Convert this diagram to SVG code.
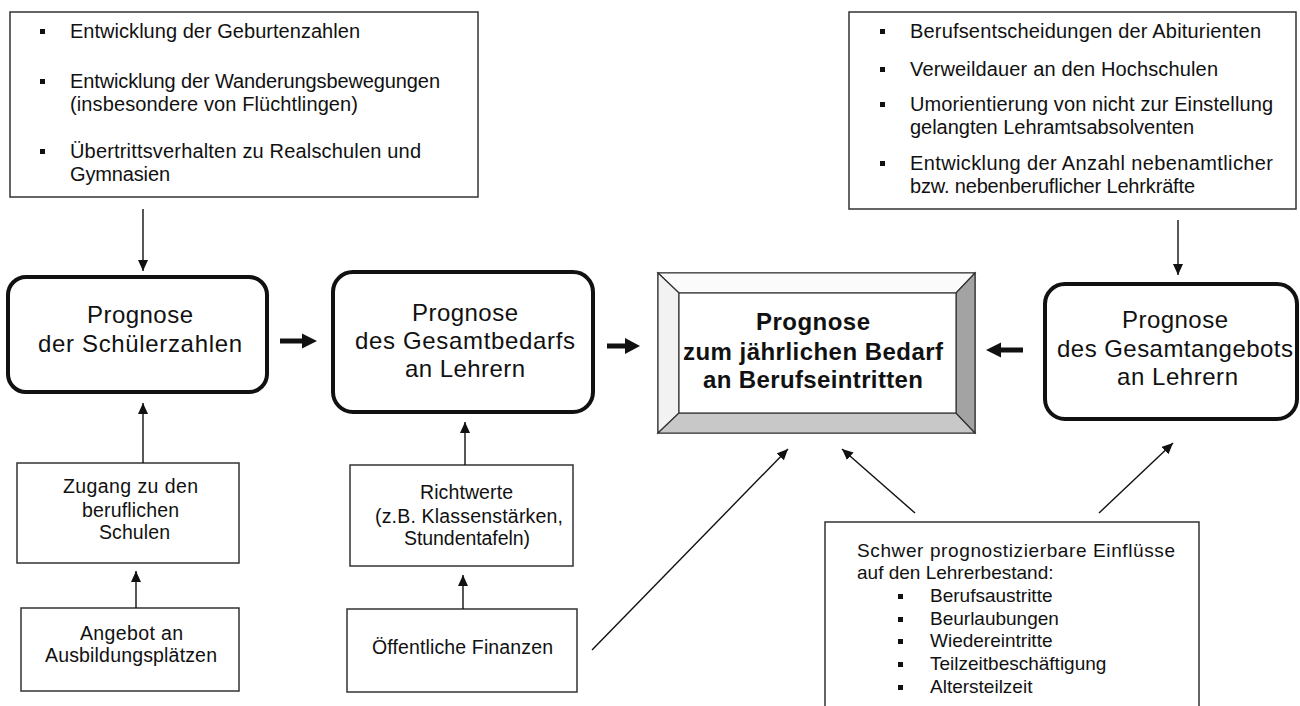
<svg xmlns="http://www.w3.org/2000/svg" width="1300" height="706" viewBox="0 0 1300 706">
<defs>
<style>
.t{font-family:"Liberation Sans",Arial,sans-serif;fill:#111}
.s20{font-size:20px}
.s24{font-size:24px}
.s18{font-size:19.5px}
.s19{font-size:19px}
.b{font-weight:bold}
.box{fill:#fff;stroke:#333;stroke-width:1.5}
.rbox{fill:#fff;stroke:#111;stroke-width:4}
.ln{stroke:#111;stroke-width:1.4;fill:none}
.bul{fill:#111}
.bev{stroke:#333;stroke-width:1.2}
</style>
<marker id="ah" markerUnits="userSpaceOnUse" markerWidth="12" markerHeight="11" refX="11" refY="5" orient="auto">
<path d="M0,0 L11,5 L0,10 z" fill="#111"/>
</marker>
</defs>
<rect width="1300" height="706" fill="#fff"/>

<g id="factors-schueler">
<rect class="box" x="10" y="12" width="468" height="185"/>
<rect class="bul" x="40" y="29" width="5" height="5"/>
<rect class="bul" x="40" y="79" width="5" height="5"/>
<rect class="bul" x="40" y="149" width="5" height="5"/>
<text class="t s20" x="70" y="38" textLength="290">Entwicklung der Geburtenzahlen</text>
<text class="t s20" x="70" y="88" textLength="370">Entwicklung der Wanderungsbewegungen</text>
<text class="t s20" x="70" y="111" textLength="288">(insbesondere von Flüchtlingen)</text>
<text class="t s20" x="70" y="158" textLength="351">Übertrittsverhalten zu Realschulen und</text>
<text class="t s20" x="70" y="181" textLength="100">Gymnasien</text>
</g>

<g id="factors-angebot">
<rect class="box" x="849" y="12" width="447" height="197"/>
<rect class="bul" x="880" y="29" width="5" height="5"/>
<rect class="bul" x="880" y="67" width="5" height="5"/>
<rect class="bul" x="880" y="102" width="5" height="5"/>
<rect class="bul" x="880" y="161" width="5" height="5"/>
<text class="t s20" x="910" y="38" textLength="351">Berufsentscheidungen der Abiturienten</text>
<text class="t s20" x="910" y="76" textLength="308">Verweildauer an den Hochschulen</text>
<text class="t s20" x="910" y="111" textLength="363">Umorientierung von nicht zur Einstellung</text>
<text class="t s20" x="910" y="134" textLength="284">gelangten Lehramtsabsolventen</text>
<text class="t s20" x="910" y="170" textLength="363">Entwicklung der Anzahl nebenamtlicher</text>
<text class="t s20" x="910" y="193" textLength="285">bzw. nebenberuflicher Lehrkräfte</text>
</g>

<g id="prognose-schueler">
<rect class="rbox" x="8" y="277" width="259" height="115" rx="18"/>
<text class="t s24" x="87" y="323" textLength="106">Prognose</text>
<text class="t s24" x="38" y="352" textLength="204">der Schülerzahlen</text>
</g>

<g id="prognose-bedarf">
<rect class="rbox" x="333" y="272" width="260" height="140" rx="20"/>
<text class="t s24" x="412" y="321" textLength="106">Prognose</text>
<text class="t s24" x="355" y="349" textLength="220">des Gesamtbedarfs</text>
<text class="t s24" x="405" y="377" textLength="120">an Lehrern</text>
</g>

<g id="prognose-eintritte">
<rect x="658" y="273" width="317" height="160" fill="#fff" class="bev"/>
<polygon class="bev" points="658,273 975,273 956,293 679,293" fill="#fbfbfb"/>
<polygon class="bev" points="658,273 679,293 679,413 658,433" fill="#f2f2f2"/>
<polygon class="bev" points="658,433 679,413 956,413 975,433" fill="#c8c8c8"/>
<polygon class="bev" points="975,273 975,433 956,413 956,293" fill="#a3a3a3"/>
<rect x="679" y="293" width="277" height="120" fill="#fff" class="bev"/>
<text class="t s24 b" x="756" y="330" textLength="114">Prognose</text>
<text class="t s24 b" x="683" y="360" textLength="260">zum jährlichen Bedarf</text>
<text class="t s24 b" x="703" y="388" textLength="220">an Berufseintritten</text>
</g>

<g id="prognose-angebot">
<rect class="rbox" x="1045" y="284" width="252" height="135" rx="20"/>
<text class="t s24" x="1122" y="328" textLength="106">Prognose</text>
<text class="t s24" x="1057" y="357" textLength="236">des Gesamtangebots</text>
<text class="t s24" x="1117" y="385" textLength="121">an Lehrern</text>
</g>

<g id="zugang">
<rect class="box" x="17" y="463" width="222" height="100"/>
<text class="t s18" x="63" y="493" textLength="135">Zugang zu den</text>
<text class="t s18" x="82" y="517" textLength="97">beruflichen</text>
<text class="t s18" x="99" y="539" textLength="71">Schulen</text>
</g>

<g id="ausbildung">
<rect class="box" x="21" y="608" width="218" height="83"/>
<text class="t s18" x="80" y="640" textLength="103">Angebot an</text>
<text class="t s18" x="45" y="662" textLength="172">Ausbildungsplätzen</text>
</g>

<g id="richtwerte">
<rect class="box" x="350" y="465" width="223" height="101"/>
<text class="t s18" x="420" y="499" textLength="93">Richtwerte</text>
<text class="t s18" x="375" y="523" textLength="188">(z.B. Klassenstärken,</text>
<text class="t s18" x="404" y="545" textLength="126">Stundentafeln)</text>
</g>

<g id="finanzen">
<rect class="box" x="347" y="609" width="230" height="83"/>
<text class="t s18" x="372" y="654" textLength="181">Öffentliche Finanzen</text>
</g>

<g id="einfluesse">
<rect class="box" x="825" y="522" width="374" height="200"/>
<text class="t s19" x="857" y="557" textLength="318">Schwer prognostizierbare Einflüsse</text>
<text class="t s19" x="857" y="579">auf den Lehrerbestand:</text>
<rect class="bul" x="898" y="594" width="5" height="5"/>
<rect class="bul" x="898" y="617" width="5" height="5"/>
<rect class="bul" x="898" y="639" width="5" height="5"/>
<rect class="bul" x="898" y="662" width="5" height="5"/>
<rect class="bul" x="898" y="685" width="5" height="5"/>
<text class="t s19" x="930" y="602">Berufsaustritte</text>
<text class="t s19" x="930" y="625">Beurlaubungen</text>
<text class="t s19" x="930" y="647">Wiedereintritte</text>
<text class="t s19" x="930" y="670">Teilzeitbeschäftigung</text>
<text class="t s19" x="930" y="693">Altersteilzeit</text>
</g>

<g id="connectors">
<line class="ln" x1="143" y1="209" x2="143" y2="271" marker-end="url(#ah)"/>
<line class="ln" x1="1178" y1="220" x2="1178" y2="275" marker-end="url(#ah)"/>
<line class="ln" x1="143" y1="463" x2="143" y2="403" marker-end="url(#ah)"/>
<line class="ln" x1="136" y1="608" x2="136" y2="571" marker-end="url(#ah)"/>
<line class="ln" x1="465" y1="465" x2="465" y2="422" marker-end="url(#ah)"/>
<line class="ln" x1="463" y1="609" x2="463" y2="575" marker-end="url(#ah)"/>
<line class="ln" x1="592" y1="650" x2="788" y2="449" marker-end="url(#ah)"/>
<line class="ln" x1="915" y1="513" x2="842" y2="449" marker-end="url(#ah)"/>
<line class="ln" x1="1099" y1="513" x2="1173" y2="443" marker-end="url(#ah)"/>
<polygon fill="#111" points="280,338.5 302,338.5 302,333.5 317,341 302,348.5 302,343.5 280,343.5"/>
<polygon fill="#111" points="607,343.5 625,343.5 625,338 640,346 625,354 625,348.5 607,348.5"/>
<polygon fill="#111" points="1023,347.5 1001,347.5 1001,342.5 986,350 1001,357.5 1001,352.5 1023,352.5"/>
</g>
</svg>
